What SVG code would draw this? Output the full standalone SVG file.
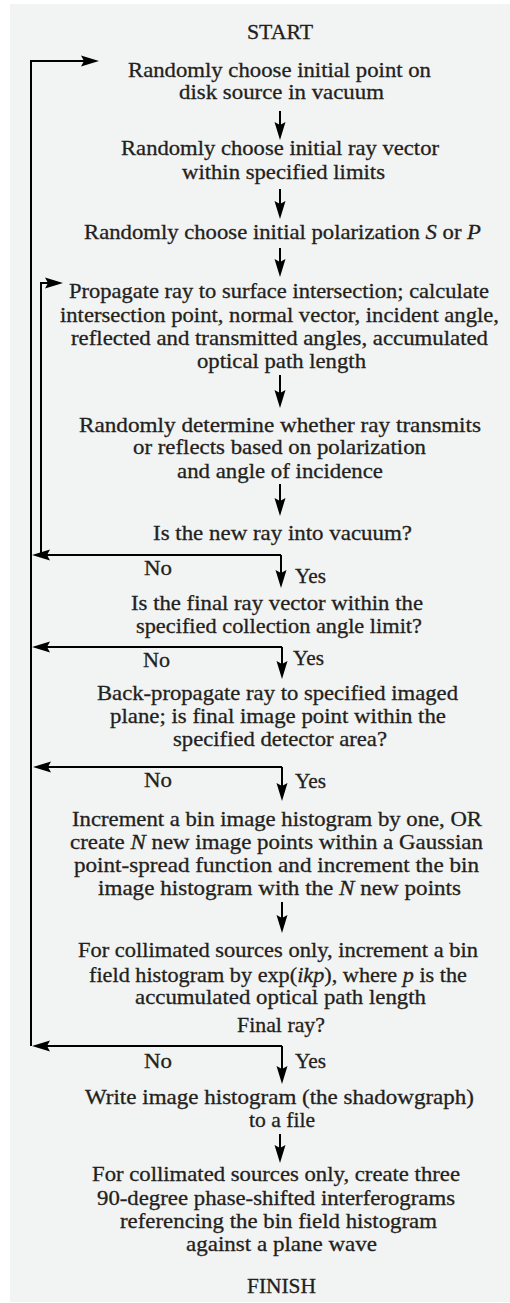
<svg xmlns="http://www.w3.org/2000/svg" width="510" height="1303" viewBox="0 0 510 1303">
<style>
text{font-family:"Liberation Serif","DejaVu Serif","Times New Roman",serif;font-size:21px;fill:#231f20;stroke:#231f20;stroke-width:0.3}
.it{font-style:italic}
.c{fill:none;stroke:#000;stroke-width:2}
.a{marker-end:url(#ah)}
</style>
<defs>
<marker id="ah" markerUnits="userSpaceOnUse" viewBox="-18 -6 18 12" markerWidth="18" markerHeight="12" refX="-6" refY="0" orient="auto">
<path d="M0,0 L-18,-5.5 L-15,0 L-18,5.5 Z" fill="#000"/>
</marker>
</defs>
<rect x="10" y="4" width="500" height="1298" fill="#f2f3f3"/>
<g id="connectors">
<path class="c a" d="M31,1046 V61 H93"/>
<path class="c a" d="M41,555 V283 H57"/>
<path class="c a" d="M280,111 V134"/>
<path class="c a" d="M280,189 V213"/>
<path class="c a" d="M280,248 V271"/>
<path class="c a" d="M280,375 V402"/>
<path class="c a" d="M280,484 V510"/>
<path class="c a" d="M281,555 H38"/>
<path class="c a" d="M281,555 V582"/>
<path class="c a" d="M282,647 H38"/>
<path class="c a" d="M282,647 V673"/>
<path class="c a" d="M282,767 H39"/>
<path class="c a" d="M282,767 V795"/>
<path class="c a" d="M282,902 V927"/>
<path class="c a" d="M282,1046 H38"/>
<path class="c a" d="M282,1046 V1078"/>
<path class="c a" d="M280,1134 V1157"/>
</g>
<g font-family="'Liberation Serif', 'DejaVu Serif', serif">
<g id="start"><text x="247" y="39" textLength="66" lengthAdjust="spacingAndGlyphs">START</text></g>
<g id="choose-point">
<text x="128" y="77" textLength="303" lengthAdjust="spacingAndGlyphs">Randomly choose initial point on</text>
<text x="179" y="99" textLength="205" lengthAdjust="spacingAndGlyphs">disk source in vacuum</text>
</g>
<g id="choose-vector">
<text x="121" y="155" textLength="318" lengthAdjust="spacingAndGlyphs">Randomly choose initial ray vector</text>
<text x="182" y="179" textLength="203" lengthAdjust="spacingAndGlyphs">within specified limits</text>
</g>
<g id="choose-polarization">
<text x="84" y="239" textLength="397" lengthAdjust="spacingAndGlyphs">Randomly choose initial polarization <tspan class="it">S</tspan> or <tspan class="it">P</tspan></text>
</g>
<g id="propagate">
<text x="69" y="298" textLength="420" lengthAdjust="spacingAndGlyphs">Propagate ray to surface intersection; calculate</text>
<text x="60" y="322" textLength="439" lengthAdjust="spacingAndGlyphs">intersection point, normal vector, incident angle,</text>
<text x="71" y="345" textLength="417" lengthAdjust="spacingAndGlyphs">reflected and transmitted angles, accumulated</text>
<text x="197" y="368" textLength="169" lengthAdjust="spacingAndGlyphs">optical path length</text>
</g>
<g id="determine">
<text x="79" y="432" textLength="402" lengthAdjust="spacingAndGlyphs">Randomly determine whether ray transmits</text>
<text x="133" y="454" textLength="293" lengthAdjust="spacingAndGlyphs">or reflects based on polarization</text>
<text x="177" y="478" textLength="206" lengthAdjust="spacingAndGlyphs">and angle of incidence</text>
</g>
<g id="q-vacuum">
<text x="153" y="540" textLength="259" lengthAdjust="spacingAndGlyphs">Is the new ray into vacuum?</text>
<text x="144" y="575" textLength="28" lengthAdjust="spacingAndGlyphs">No</text>
<text x="295" y="583" textLength="31" lengthAdjust="spacingAndGlyphs">Yes</text>
</g>
<g id="q-collection">
<text x="131" y="610" textLength="292" lengthAdjust="spacingAndGlyphs">Is the final ray vector within the</text>
<text x="136" y="633" textLength="286" lengthAdjust="spacingAndGlyphs">specified collection angle limit?</text>
<text x="143" y="667" textLength="27" lengthAdjust="spacingAndGlyphs">No</text>
<text x="293" y="665" textLength="31" lengthAdjust="spacingAndGlyphs">Yes</text>
</g>
<g id="q-detector">
<text x="97" y="700" textLength="361" lengthAdjust="spacingAndGlyphs">Back-propagate ray to specified imaged</text>
<text x="110" y="723" textLength="336" lengthAdjust="spacingAndGlyphs">plane; is final image point within the</text>
<text x="173" y="746" textLength="214" lengthAdjust="spacingAndGlyphs">specified detector area?</text>
<text x="144" y="787" textLength="28" lengthAdjust="spacingAndGlyphs">No</text>
<text x="295" y="788" textLength="31" lengthAdjust="spacingAndGlyphs">Yes</text>
</g>
<g id="increment-image">
<text x="72" y="826" textLength="410" lengthAdjust="spacingAndGlyphs">Increment a bin image histogram by one, OR</text>
<text x="70" y="849" textLength="413" lengthAdjust="spacingAndGlyphs">create <tspan class="it">N</tspan> new image points within a Gaussian</text>
<text x="74" y="872" textLength="405" lengthAdjust="spacingAndGlyphs">point-spread function and increment the bin</text>
<text x="98" y="895" textLength="363" lengthAdjust="spacingAndGlyphs">image histogram with the <tspan class="it">N</tspan> new points</text>
</g>
<g id="increment-field">
<text x="78" y="957" textLength="400" lengthAdjust="spacingAndGlyphs">For collimated sources only, increment a bin</text>
<text x="89" y="982" textLength="378" lengthAdjust="spacingAndGlyphs">field histogram by exp(<tspan class="it">ikp</tspan>), where <tspan class="it">p</tspan> is the</text>
<text x="135" y="1004" textLength="291" lengthAdjust="spacingAndGlyphs">accumulated optical path length</text>
</g>
<g id="q-final">
<text x="237" y="1032" textLength="88" lengthAdjust="spacingAndGlyphs">Final ray?</text>
<text x="144" y="1068" textLength="28" lengthAdjust="spacingAndGlyphs">No</text>
<text x="295" y="1068" textLength="31" lengthAdjust="spacingAndGlyphs">Yes</text>
</g>
<g id="write-image">
<text x="85" y="1104" textLength="389" lengthAdjust="spacingAndGlyphs">Write image histogram (the shadowgraph)</text>
<text x="249" y="1127" textLength="66" lengthAdjust="spacingAndGlyphs">to a file</text>
</g>
<g id="interferograms">
<text x="92" y="1181" textLength="368" lengthAdjust="spacingAndGlyphs">For collimated sources only, create three</text>
<text x="97" y="1205" textLength="358" lengthAdjust="spacingAndGlyphs">90-degree phase-shifted interferograms</text>
<text x="120" y="1228" textLength="317" lengthAdjust="spacingAndGlyphs">referencing the bin field histogram</text>
<text x="186" y="1251" textLength="191" lengthAdjust="spacingAndGlyphs">against a plane wave</text>
</g>
<g id="finish"><text x="247" y="1293" textLength="69" lengthAdjust="spacingAndGlyphs">FINISH</text></g>
</g>
</svg>
